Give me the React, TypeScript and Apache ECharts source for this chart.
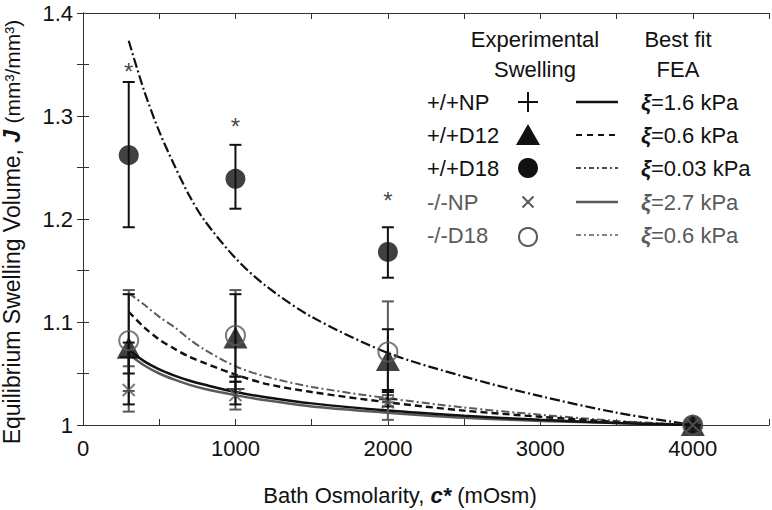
import React, { useEffect, useRef } from "react";
import * as echarts from "echarts";

const FONT = "'Liberation Sans', Arial, Helvetica, sans-serif";
const BLACK = "#111111";
const GRAY = "#5a5a5a";

// FEA best-fit curves
const xFit = [300, 400, 500, 600, 700, 800, 1000, 1200, 1500, 2000, 2500, 3000, 3500, 4000];
const fitNPpos = [1.073, 1.062, 1.054, 1.048, 1.043, 1.039, 1.032, 1.027, 1.021, 1.014, 1.009, 1.005, 1.002, 1.0];
const fitD12pos = [1.11, 1.095, 1.083, 1.074, 1.066, 1.06, 1.049, 1.04, 1.032, 1.022, 1.014, 1.008, 1.003, 1.0];
const fitD18pos = [1.373, 1.325, 1.285, 1.252, 1.222, 1.198, 1.162, 1.135, 1.105, 1.07, 1.047, 1.028, 1.012, 1.0];
const fitNPneg = [1.069, 1.058, 1.05, 1.044, 1.039, 1.035, 1.029, 1.024, 1.018, 1.012, 1.007, 1.004, 1.002, 1.0];
const fitD18neg = [1.128, 1.117, 1.105, 1.095, 1.083, 1.073, 1.057, 1.047, 1.037, 1.026, 1.017, 1.01, 1.004, 1.0];

// Experimental swelling
const xExp = [300, 1000, 2000, 4000];
const npPos = [1.066, 1.035, 1.025, 1.0];
const npPosLo = [1.05, 1.02, 1.018, 1.0];
const npPosHi = [1.08, 1.047, 1.032, 1.0];
const d12Pos = [1.075, 1.085, 1.063, 1.0];
const d12PosLo = [1.02, 1.042, 1.034, 1.0];
const d12PosHi = [1.127, 1.127, 1.093, 1.0];
const d18Pos = [1.262, 1.239, 1.168, 1.0];
const d18PosLo = [1.192, 1.21, 1.143, 1.0];
const d18PosHi = [1.333, 1.272, 1.192, 1.0];
const npNeg = [1.034, 1.029, 1.022, 1.0];
const npNegLo = [1.013, 1.015, 1.005, 1.0];
const npNegHi = [1.057, 1.042, 1.029, 1.0];
const d18Neg = [1.082, 1.087, 1.071, 1.0];
const d18NegLo = [1.033, 1.047, 1.022, 1.0];
const d18NegHi = [1.131, 1.131, 1.12, 1.0];

// significance markers
const starX = [300, 1000, 2000];
const starY = [1.343, 1.29, 1.218];

const legendRows = ["+/+NP", "+/+D12", "+/+D18", "-/-NP", "-/-D18"];
const legendXi = ["1.6", "0.6", "0.03", "2.7", "0.6"];

const PLUS = "path://M0,5L10,5M5,0L5,10";
const CROSS = "path://M0,0L10,10M10,0L0,10";

function pairs(xs: number[], ys: number[]) {
  return xs.map((x, i) => [x, ys[i]]);
}
function bars(xs: number[], lo: number[], hi: number[]) {
  return xs.map((x, i) => [x, lo[i], hi[i]]).filter((d) => d[2] - d[1] > 0);
}

function errSeries(data: number[][], color: string) {
  return {
    type: "custom",
    data,
    encode: { x: 0, y: [1, 2] },
    z: 3,
    renderItem: (params: any, api: any) => {
      const x = api.value(0);
      const lo = api.coord([x, api.value(1)]);
      const hi = api.coord([x, api.value(2)]);
      const w = 6;
      const st = { stroke: color, lineWidth: 2 };
      return {
        type: "group",
        children: [
          { type: "line", shape: { x1: lo[0], y1: lo[1], x2: hi[0], y2: hi[1] }, style: st },
          { type: "line", shape: { x1: lo[0] - w, y1: lo[1], x2: lo[0] + w, y2: lo[1] }, style: st },
          { type: "line", shape: { x1: hi[0] - w, y1: hi[1], x2: hi[0] + w, y2: hi[1] }, style: st },
        ],
      };
    },
  };
}

function lineSeries(ys: number[], color: string, type: any, width: number) {
  return {
    type: "line",
    data: pairs(xFit, ys),
    smooth: 0.3,
    showSymbol: false,
    symbol: "none",
    z: 2,
    lineStyle: { color, type, width },
  };
}

export default function App() {
  const ref = useRef<HTMLDivElement>(null);
  useEffect(() => {
    if (!ref.current) return;
    const chart = echarts.init(ref.current, null, { renderer: "svg" });

    const axisCommon = {
      type: "value",
      axisLine: { show: true, lineStyle: { color: "#333", width: 1 } },
      axisTick: { show: true, inside: true, length: 6, lineStyle: { color: "#333", width: 1 } },
      splitLine: { show: false },
    };
    const labelStyle = { fontSize: 22, color: BLACK, fontFamily: FONT };

    const legendGraphics: any[] = [];
    const rowY = [102, 135, 168, 202, 235];
    const rowColor = [BLACK, BLACK, BLACK, GRAY, GRAY];
    legendGraphics.push(
      { type: "text", x: 535, y: 39, style: { text: "Experimental", font: `22px ${FONT}`, fill: BLACK, align: "center", verticalAlign: "middle" } },
      { type: "text", x: 535, y: 69, style: { text: "Swelling", font: `22px ${FONT}`, fill: BLACK, align: "center", verticalAlign: "middle" } },
      { type: "text", x: 678, y: 39, style: { text: "Best fit", font: `22px ${FONT}`, fill: BLACK, align: "center", verticalAlign: "middle" } },
      { type: "text", x: 678, y: 69, style: { text: "FEA", font: `22px ${FONT}`, fill: BLACK, align: "center", verticalAlign: "middle" } }
    );
    legendRows.forEach((name, i) => {
      const y = rowY[i];
      const c = rowColor[i];
      legendGraphics.push({ type: "text", x: 427, y, style: { text: name, font: `22px ${FONT}`, fill: c, align: "left", verticalAlign: "middle" } });
      legendGraphics.push({
        type: "text",
        x: 641,
        y,
        style: {
          text: `{xi|ξ}=${legendXi[i]} kPa`,
          font: `22px ${FONT}`,
          fill: c,
          align: "left",
          verticalAlign: "middle",
          rich: { xi: { fontWeight: "bold", fontStyle: "italic", fontSize: 22, fontFamily: FONT, fill: c } },
        },
      });
    });
    const mx = 528;
    legendGraphics.push(
      { type: "line", shape: { x1: mx - 10, y1: rowY[0], x2: mx + 10, y2: rowY[0] }, style: { stroke: BLACK, lineWidth: 2 } },
      { type: "line", shape: { x1: mx, y1: rowY[0] - 10, x2: mx, y2: rowY[0] + 10 }, style: { stroke: BLACK, lineWidth: 2 } },
      { type: "polygon", shape: { points: [[mx, rowY[1] - 11], [mx + 12, rowY[1] + 10], [mx - 12, rowY[1] + 10]] }, style: { fill: BLACK } },
      { type: "circle", shape: { cx: mx, cy: rowY[2], r: 10 }, style: { fill: BLACK } },
      { type: "line", shape: { x1: mx - 5.5, y1: rowY[3] - 5.5, x2: mx + 5.5, y2: rowY[3] + 5.5 }, style: { stroke: GRAY, lineWidth: 2 } },
      { type: "line", shape: { x1: mx + 5.5, y1: rowY[3] - 5.5, x2: mx - 5.5, y2: rowY[3] + 5.5 }, style: { stroke: GRAY, lineWidth: 2 } },
      { type: "circle", shape: { cx: mx, cy: rowY[4] + 2, r: 9 }, style: { fill: "none", stroke: GRAY, lineWidth: 2 } }
    );
    const lx1 = 576, lx2 = 618;
    const sampleDash: any[] = [null, [6, 5], [5, 3, 2, 3], null, [5, 3, 2, 3]];
    const sampleW = [2.5, 2, 1.5, 2.5, 1.5];
    rowY.forEach((y, i) => {
      legendGraphics.push({
        type: "line",
        shape: { x1: lx1, y1: y, x2: lx2, y2: y },
        style: { stroke: rowColor[i], lineWidth: sampleW[i], lineDash: sampleDash[i] || undefined },
      });
    });

    const option: any = {
      animation: false,
      backgroundColor: "#ffffff",
      grid: { left: 83, right: 3, top: 13, bottom: 85 },
      xAxis: [
        {
          ...axisCommon,
          position: "bottom",
          min: 0,
          max: 4500,
          interval: 500,
          axisLabel: {
            ...labelStyle,
            margin: 12,
            formatter: (v: number) => (v % 1000 === 0 && v <= 4000 ? String(v) : ""),
          },
        },
        { ...axisCommon, position: "top", min: 0, max: 4500, interval: 500, axisLabel: { show: false } },
      ],
      yAxis: [
        {
          ...axisCommon,
          position: "left",
          min: 1,
          max: 1.4,
          interval: 0.05,
          axisLabel: {
            ...labelStyle,
            margin: 10,
            formatter: (v: number) => {
              const r = Math.round(v * 100);
              return r % 10 === 0 ? String(r / 100) : "";
            },
          },
        },
        { ...axisCommon, position: "right", min: 1, max: 1.4, interval: 0.05, axisLabel: { show: false } },
      ],
      graphic: [
        {
          type: "text",
          x: 12,
          y: 232,
          rotation: Math.PI / 2,
          style: {
            text: "Equilibrium Swelling Volume, {b|J} {s|(mm³/mm³)}",
            font: `23px ${FONT}`,
            fill: BLACK,
            align: "center",
            verticalAlign: "middle",
            rich: {
              b: { fontWeight: "bold", fontStyle: "italic", fontSize: 23, fontFamily: FONT, fill: BLACK },
              s: { fontSize: 21, fontFamily: FONT, fill: BLACK },
            },
          },
        },
        {
          type: "text",
          x: 400,
          y: 495,
          style: {
            text: "Bath Osmolarity, {b|c*} (mOsm)",
            font: `22px ${FONT}`,
            fill: BLACK,
            align: "center",
            verticalAlign: "middle",
            rich: { b: { fontWeight: "bold", fontStyle: "italic", fontSize: 22, fontFamily: FONT, fill: BLACK } },
          },
        },
        ...legendGraphics,
      ],
      series: [
        lineSeries(fitD18neg, GRAY, [8, 3, 2, 3], 2),
        lineSeries(fitD18pos, BLACK, [10, 3, 2, 3], 2.2),
        lineSeries(fitD12pos, BLACK, [7, 4], 2.4),
        lineSeries(fitNPneg, GRAY, "solid", 2.5),
        lineSeries(fitNPpos, BLACK, "solid", 2.5),
        errSeries(bars(xExp, d18NegLo, d18NegHi), GRAY),
        errSeries(bars(xExp, npNegLo, npNegHi), GRAY),
        errSeries(bars(xExp, d12PosLo, d12PosHi), BLACK),
        errSeries(bars(xExp, npPosLo, npPosHi), BLACK),
        errSeries(bars(xExp, d18PosLo, d18PosHi), BLACK),
        {
          type: "scatter",
          data: pairs(xExp, npPos),
          symbol: PLUS,
          symbolSize: 18,
          z: 4,
          itemStyle: { color: "transparent", borderColor: BLACK, borderWidth: 2 },
        },
        {
          type: "scatter",
          data: pairs(xExp, d12Pos),
          symbol: "triangle",
          symbolSize: [24, 22],
          z: 4,
          itemStyle: { color: BLACK },
        },
        {
          type: "scatter",
          data: pairs(xExp, d18Pos),
          symbol: "circle",
          symbolSize: 20,
          z: 4,
          itemStyle: { color: BLACK },
        },
        {
          type: "scatter",
          data: pairs(xExp, npNeg),
          symbol: CROSS,
          symbolSize: 12,
          z: 5,
          itemStyle: { color: "transparent", borderColor: GRAY, borderWidth: 2 },
        },
        {
          type: "scatter",
          data: pairs(xExp, d18Neg),
          symbol: "circle",
          symbolSize: 19,
          z: 5,
          itemStyle: { color: "transparent", borderColor: GRAY, borderWidth: 2 },
        },
        {
          type: "scatter",
          data: pairs(starX, starY),
          symbol: "circle",
          symbolSize: 1,
          z: 5,
          itemStyle: { color: "transparent" },
          label: { show: true, position: "inside", formatter: "*", fontSize: 24, color: BLACK, fontFamily: FONT },
        },
      ],
    };
    chart.setOption(option);
    return () => chart.dispose();
  }, []);
  return <div ref={ref} style={{ position: "fixed", left: 0, top: 0, width: 772, height: 510, background: "#fff" }} />;
}
